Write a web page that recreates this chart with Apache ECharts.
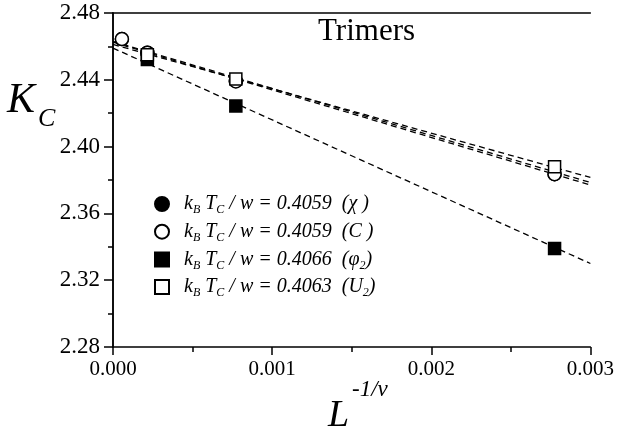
<!DOCTYPE html>
<html>
<head>
<meta charset="utf-8">
<script src="https://cdn.jsdelivr.net/npm/echarts@6/dist/echarts.min.js"></script>
<style>html,body{margin:0;padding:0;background:#fff}#c{width:617px;height:436px}</style>
</head>
<body>
<div id="c"></div>
<script>
// L^{-1/nu} values for each system size
var xChi = [0.000056, 0.000216, 0.000772, 0.002775];
var yChi = [2.4644, 2.4562, 2.4393, 2.3835];
var xC = [0.000056, 0.000216, 0.000772, 0.002775];
var yC = [2.4644, 2.4562, 2.4390, 2.3835];
var xPhi = [0.000216, 0.000772, 0.002775];
var yPhi = [2.4522, 2.4243, 2.3390];
var xU = [0.000216, 0.000772, 0.002775];
var yU = [2.4550, 2.4405, 2.3880];
// dashed linear fits (endpoints)
var fitChi = [[0, 2.4625], [0.003, 2.3770]];
var fitC = [[0, 2.4630], [0.003, 2.3785]];
var fitPhi = [[0, 2.4590], [0.003, 2.3300]];
var fitU = [[0, 2.4612], [0.003, 2.3815]];
var xTicks = ['0.000', '0.001', '0.002', '0.003'];
var yTicks = ['2.28', '2.32', '2.36', '2.40', '2.44', '2.48'];
var names = ['chi', 'C', 'phi', 'U'];

function pts(xs, ys) { return xs.map(function (x, i) { return [x, ys[i]]; }); }

var serif = 'Liberation Serif';
var rich = {
  it: { fontFamily: serif, fontStyle: 'italic', fontSize: 20, lineHeight: 24, color: '#000' },
  sub: { fontFamily: serif, fontStyle: 'italic', fontSize: 12, lineHeight: 9, verticalAlign: 'bottom', color: '#000' }
};
var legendText = {
  chi: '{it|k}{sub|B}{it| T}{sub|C}{it| / w = 0.4059  (χ )}',
  C: '{it|k}{sub|B}{it| T}{sub|C}{it| / w = 0.4059  (C )}',
  phi: '{it|k}{sub|B}{it| T}{sub|C}{it| / w = 0.4066  (φ}{sub|2}{it|)}',
  U: '{it|k}{sub|B}{it| T}{sub|C}{it| / w = 0.4063  (U}{sub|2}{it|)}'
};

function fit(d) {
  return { type: 'line', data: d, symbol: 'none', silent: true, z: 1,
    lineStyle: { color: '#000', width: 1.3, type: [6, 4] } };
}
function mk(name, data, symbol, filled, size) {
  return { name: name, type: 'scatter', data: data, symbol: symbol, symbolSize: size, z: 5,
    itemStyle: { color: filled ? '#000' : '#fff', borderColor: '#000', borderWidth: 1.5, opacity: 1 } };
}

var chart = echarts.init(document.getElementById('c'), null, { renderer: 'canvas' });
chart.setOption({
  animation: false,
  backgroundColor: '#fff',
  grid: { left: 113, right: 23, top: 13, bottom: 89 },
  xAxis: [{
    type: 'value', min: 0, max: 0.003, interval: 0.001, position: 'bottom',
    axisLine: { lineStyle: { color: '#000', width: 1.5 } },
    axisTick: { inside: false, length: 8, lineStyle: { color: '#000', width: 1.5 } },
    minorTick: { show: true, splitNumber: 2, length: 5, lineStyle: { color: '#000', width: 1.5 } },
    splitLine: { show: false },
    axisLabel: { margin: 12, fontFamily: serif, fontSize: 21, color: '#000',
      formatter: function (v) { return xTicks[Math.round(v / 0.001)]; } }
  }, {
    type: 'value', min: 0, max: 0.003, position: 'top',
    axisLine: { lineStyle: { color: '#000', width: 1.5 } },
    axisTick: { show: false }, axisLabel: { show: false }, splitLine: { show: false }
  }],
  yAxis: [{
    type: 'value', min: 2.28, max: 2.48, interval: 0.04, position: 'left',
    axisLine: { show: true, lineStyle: { color: '#000', width: 1.5 } },
    axisTick: { show: true, inside: false, length: 8, lineStyle: { color: '#000', width: 1.5 } },
    minorTick: { show: true, splitNumber: 2, length: 4, lineStyle: { color: '#000', width: 1.5 } },
    splitLine: { show: false },
    axisLabel: { margin: 13, fontFamily: serif, fontSize: 23, color: '#000',
      formatter: function (v) { return yTicks[Math.round((v - 2.28) / 0.04)]; } }
  }, {
    type: 'value', min: 2.28, max: 2.48, interval: 0.04, position: 'right',
    axisLine: { show: true, lineStyle: { color: '#000', width: 1.5 } },
    axisTick: { show: true, inside: true, length: 9, lineStyle: { color: '#000', width: 1.5 } },
    minorTick: { show: true, splitNumber: 2, length: 5, lineStyle: { color: '#000', width: 1.5 } },
    axisLabel: { show: false }, splitLine: { show: false }
  }],
  legend: {
    orient: 'vertical', left: 149, top: 189, itemGap: 5.7, itemWidth: 14, itemHeight: 14,
    data: names, selectedMode: false,
    formatter: function (n) { return legendText[n]; },
    textStyle: { rich: rich, padding: [0, 0, 0, 10] }
  },
  series: [
    fit(fitChi), fit(fitC), fit(fitPhi), fit(fitU),
    mk('chi', pts(xChi, yChi), 'circle', true, 13),
    mk('C', pts(xC, yC), 'circle', false, 13),
    mk('phi', pts(xPhi, yPhi), 'rect', true, 12),
    mk('U', pts(xU, yU), 'rect', false, 12)
  ],
  graphic: [
    { type: 'text', left: 318, top: 16, style: { text: 'Trimers', font: '31px "Liberation Serif"', fill: '#000' } },
    { type: 'text', left: 7, top: 80, style: { text: 'K', font: 'italic 42px "Liberation Serif"', fill: '#000' } },
    { type: 'text', left: 38, top: 106, style: { text: 'C', font: 'italic 26px "Liberation Serif"', fill: '#000' } },
    { type: 'text', left: 328, top: 397, style: { text: 'L', font: 'italic 38px "Liberation Serif"', fill: '#000' } },
    { type: 'text', left: 352, top: 378, style: { text: '-1/ν', font: 'italic 23px "Liberation Serif"', fill: '#000' } }
  ]
});
</script>
</body>
</html>
